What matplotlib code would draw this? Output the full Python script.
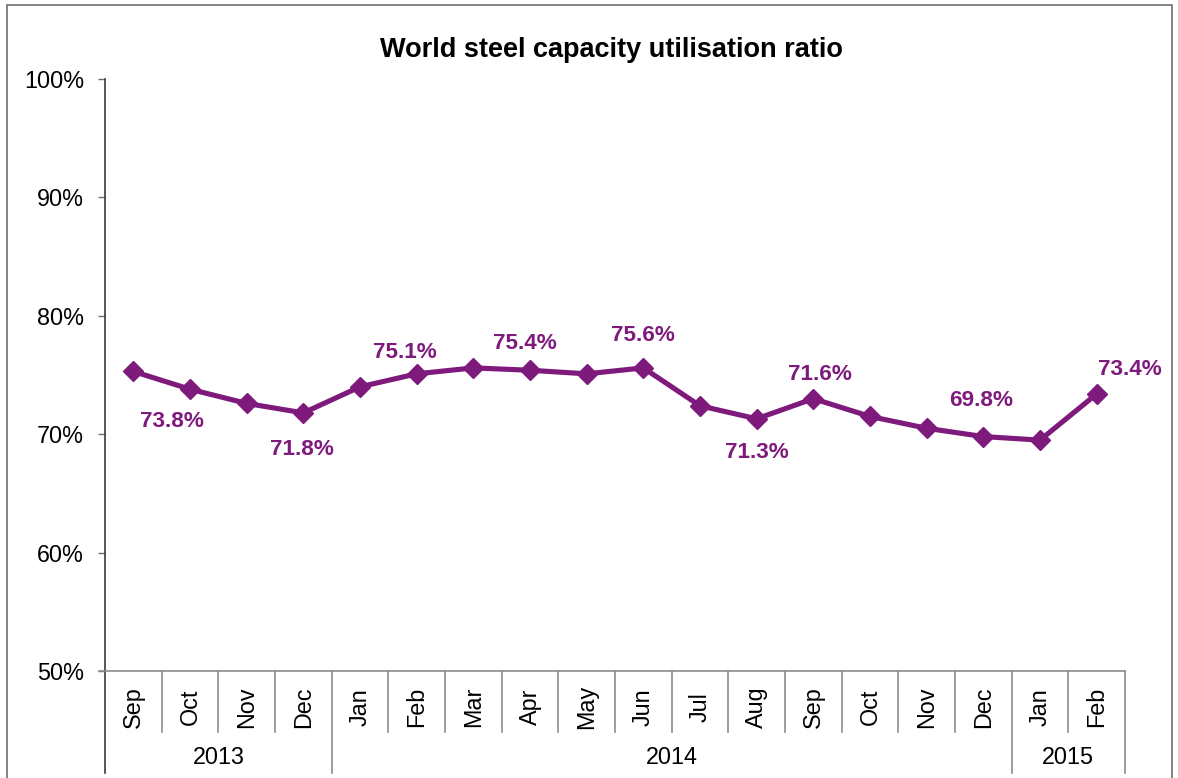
import matplotlib
matplotlib.use("Agg")
import matplotlib.pyplot as plt
from matplotlib.patches import Rectangle
from matplotlib.ticker import FuncFormatter

plt.rcParams['font.family'] = ['Liberation Sans', 'DejaVu Sans']

# ---- data ----
months = ["Sep", "Oct", "Nov", "Dec", "Jan", "Feb", "Mar", "Apr", "May", "Jun",
          "Jul", "Aug", "Sep", "Oct", "Nov", "Dec", "Jan", "Feb"]
years = ["2013", "2014", "2015"]
year_counts = [4, 12, 2]
utilisation = [75.3, 73.8, 72.6, 71.8, 74.0, 75.1, 75.6, 75.4, 75.1, 75.6,
               72.4, 71.3, 73.0, 71.5, 70.5, 69.8, 69.5, 73.4]
label_idx = [1, 3, 5, 7, 9, 11, 12, 15, 17]
label_text = ["73.8%", "71.8%", "75.1%", "75.4%", "75.6%", "71.3%", "71.6%", "69.8%", "73.4%"]
yticks = [50, 60, 70, 80, 90, 100]

# ---- style / layout ----
W, H, DPI = 1178, 778, 100
PURPLE = "#7f1a7d"
# label offsets in pixels (dx, dy up)
label_offsets_px = [(-18, -32), (-1, -37), (-12, 21), (-5, 27), (0, 32),
                    (0, -34), (7, 24), (-2, 36), (33, 24)]

fig = plt.figure(figsize=(W / DPI, H / DPI), dpi=DPI)
ax_left, ax_right, ax_top, ax_bottom = 105, 1125, 79, 671
ax = fig.add_axes([ax_left / W, 1 - ax_bottom / H,
                   (ax_right - ax_left) / W, (ax_bottom - ax_top) / H])

x = [i + 0.5 for i in range(len(months))]
ax.plot(x, utilisation, color=PURPLE, lw=3.7, marker="D", markersize=10.5,
        markerfacecolor=PURPLE, markeredgecolor=PURPLE, solid_joinstyle="round",
        clip_on=False, zorder=3)

px2pt = 72 / DPI
for (i, t), (dx, dy) in zip(zip(label_idx, label_text), label_offsets_px):
    ax.annotate(t, (x[i], utilisation[i]), xytext=(dx * px2pt, dy * px2pt),
                textcoords="offset points", ha="center", va="center",
                fontsize=16.2, fontweight="bold", color=PURPLE, zorder=4)

ax.set_xlim(0, len(months))
ax.set_ylim(50, 100)
ax.set_yticks(yticks)
ax.yaxis.set_major_formatter(FuncFormatter(lambda v, p: f"{v:.0f}%"))
ax.tick_params(axis="y", direction="out", length=5, width=1, color="#6e6e6e",
               labelsize=16.8, pad=10, labelcolor="black")
ax.set_xticks([])
for s in ["top", "right"]:
    ax.spines[s].set_visible(False)
ax.spines["left"].set_color("#3a3a3a")
ax.spines["left"].set_linewidth(1.2)
ax.spines["bottom"].set_color("#8c8c8c")
ax.spines["bottom"].set_linewidth(1.2)

axh = ax_bottom - ax_top
month_bot = -(731.7 - ax_bottom) / axh
year_bot = -(773 - ax_bottom) / axh
tr = ax.get_xaxis_transform()

# year boundaries
bounds = [0]
for c in year_counts:
    bounds.append(bounds[-1] + c)

for b in range(len(months) + 1):
    yb = year_bot if b in bounds else month_bot
    col = "#3a3a3a" if b == 0 else "#8c8c8c"
    ax.plot([b, b], [0, yb], transform=tr, color=col, lw=1.2, clip_on=False)

# tick extending left at 50%
ax.plot([-6 / ((ax_right - ax_left) / len(months)), 0], [0, 0], transform=tr,
        color="#8c8c8c", lw=1.2, clip_on=False)

month_y = -(707 - ax_bottom) / axh
for xi, m in zip(x, months):
    ax.text(xi, month_y, m, transform=tr, rotation=90, ha="center", va="center",
            fontsize=16.8)

year_y = -(758 - ax_bottom) / axh
for k, yname in enumerate(years):
    xc = (bounds[k] + bounds[k + 1]) / 2
    ax.text(xc, year_y, yname, transform=tr, ha="center", va="center", fontsize=16.8)

fig.text(611 / W, 1 - 50 / H, "World steel capacity utilisation ratio",
         ha="center", va="center", fontsize=19.5, fontweight="bold")

# outer chart border
fig.patches.append(Rectangle((7 / W, -0.05), (1172 - 7) / W, 1 - 5 / H + 0.05,
                             transform=fig.transFigure, fill=False,
                             edgecolor="#6e6e6e", lw=1.2))

fig.savefig("out.png", dpi=DPI)
